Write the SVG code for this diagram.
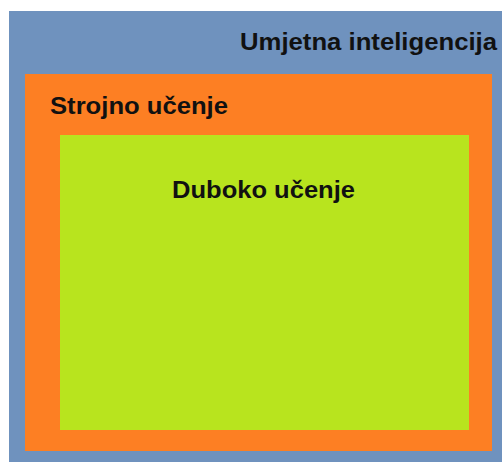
<svg xmlns="http://www.w3.org/2000/svg" width="502" height="462" viewBox="0 0 502 462">
<style>
text{font-family:"Liberation Sans",Arial,sans-serif;font-weight:bold;fill:#111;}
</style>
<rect width="502" height="462" fill="#ffffff"/>
<g id="umjetna">
<rect x="9" y="11" width="493" height="451" fill="#6f92be"/>
<text x="240" y="50" font-size="23.5" textLength="257" lengthAdjust="spacingAndGlyphs">Umjetna inteligencija</text>
</g>
<g id="strojno">
<rect x="25" y="74" width="467" height="377" fill="#fd7f23"/>
<text x="50" y="114" font-size="23" textLength="178" lengthAdjust="spacingAndGlyphs">Strojno učenje</text>
</g>
<g id="duboko">
<rect x="60" y="135" width="409" height="295" fill="#b8e41e"/>
<text x="172" y="198" font-size="23" textLength="183" lengthAdjust="spacingAndGlyphs">Duboko učenje</text>
</g>
<g id="connectors"/>
</svg>
